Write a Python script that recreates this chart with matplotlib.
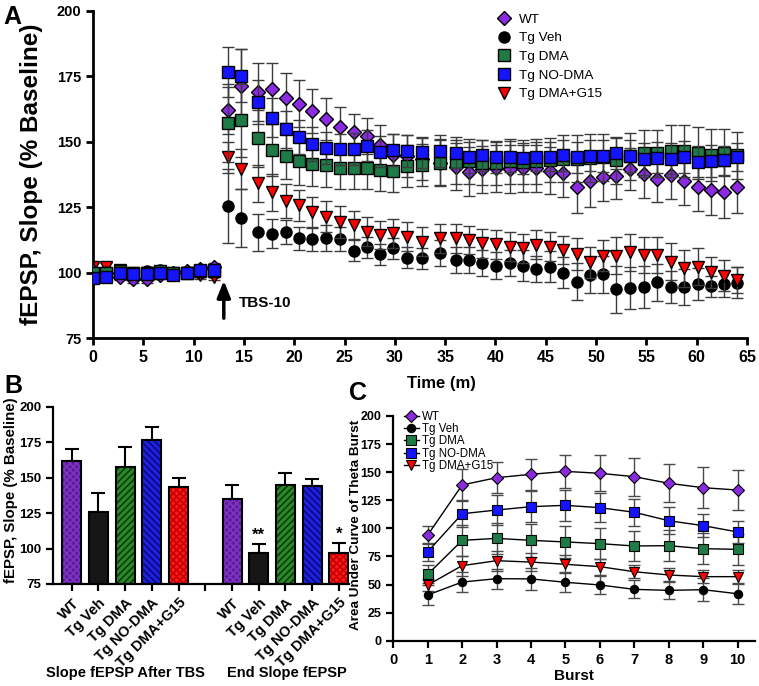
import matplotlib
matplotlib.use("Agg")
import matplotlib.pyplot as plt
import numpy as np

plt.rcParams['font.family'] = ['Liberation Sans', 'DejaVu Sans']
plt.rcParams['hatch.linewidth'] = 1.2

# ---------------- data ----------------
groups = ["WT", "Tg Veh", "Tg DMA", "Tg NO-DMA", "Tg DMA+G15"]

time_base = [0, 1.33, 2.67, 4.0, 5.33, 6.67, 8.0, 9.33, 10.67, 12.0]
time_post = [13.4, 14.7, 16.4, 17.8, 19.2, 20.5, 21.8, 23.2, 24.5, 25.9, 27.2, 28.5, 29.8,
             31.2, 32.7, 34.5, 36.1, 37.4, 38.7, 40.1, 41.4, 42.7, 44.0, 45.4, 46.7,
             48.1, 49.4, 50.7, 52.0, 53.4, 54.8, 56.1, 57.4, 58.7, 60.1, 61.4, 62.7, 64.0]

wt_base = [100.5, 100, 98.5, 97.5, 97.5, 99, 100, 100.5, 101.5, 102]
veh_base = [100, 100.5, 99, 99, 100.5, 101, 100, 100, 100, 100]
dma_base = [100, 100, 100.5, 100, 100, 100.5, 100, 100, 100.5, 100.5]
no_base = [98, 98.5, 100, 99.5, 99.5, 100, 99, 100, 101, 101]
g15_base = [102, 102, 101, 100, 100, 100, 100, 100, 99, 98.5]
base_err = [1.5, 1.5, 1.5, 1.5, 1.5, 1.5, 1.5, 1.5, 1.5, 1.5]

wt_post = [162, 171.5, 169, 170, 166.7, 164.5, 161.8, 158.6, 155.8, 153.8, 152.2, 148.6, 145,
           144.5, 143.5, 142, 140.5, 138.6, 139.5, 139.8, 139.6, 139.9, 139.9, 138.9, 138,
           132.9, 135, 136.4, 137, 139.6, 137.7, 135.9, 137.3, 135, 132.6, 131.6, 130.9, 132.6]
veh_post = [125.5, 120.8, 115.4, 114.9, 115.5, 113.1, 112.8, 113.1, 112.8, 108.4, 109.7, 107.0, 109.3,
            105.7, 105.5, 107.6, 104.8, 104.9, 103.6, 102.7, 103.6, 102.6, 101.4, 102.3, 100,
            96.5, 99.1, 99.3, 93.6, 94.2, 94.6, 96.3, 94.5, 94.5, 95.6, 94.7, 95.6, 96.2]
dma_post = [157.1, 158.2, 151.3, 146.9, 144.7, 142.5, 141.5, 141.1, 139.9, 140, 140.1, 139.2, 138.8,
            140.9, 141, 142, 142.2, 142.5, 142, 141.8, 142.5, 142.2, 142.5, 143, 143.5,
            143.5, 143.8, 144, 143, 144.5, 145.6, 145.6, 146.5, 146.5, 145.8, 144.9, 145.8, 144.9]
no_post = [176.8, 175.3, 165.3, 159.2, 154.8, 151.8, 149.0, 147.7, 147.1, 147.2, 148.5, 146.2, 146.9,
           146.5, 146.0, 146.5, 145.8, 144.1, 144.8, 144.1, 144.3, 143.7, 144.3, 144.3, 144.8,
           144.1, 144.7, 144.6, 145.6, 144.6, 143.4, 143.9, 143.6, 144.2, 142.4, 142.6, 143, 144.2]
g15_post = [144.1, 139.6, 134.1, 130.7, 127.5, 125.7, 123.0, 121.4, 119.3, 118.2, 115.6, 114.4, 115.0,
            113.7, 111.8, 113.1, 113.1, 112.5, 111.2, 110.8, 109.9, 109.3, 110.6, 109.9, 108.6,
            107.1, 103.9, 106.5, 106.5, 107.8, 106.7, 106.7, 104.2, 101.6, 102.3, 100.1, 98.8, 97.2]

wt_err = [9, 14, 11, 10, 9.5, 9, 8.5, 8, 7.5, 7, 7, 8, 8, 8, 8, 9, 9, 9.5, 9, 9, 9, 9, 9, 9, 9,
          10, 10, 9, 9, 8, 9, 9, 9, 9, 9, 9.5, 10, 10]
veh_err = [14, 11, 7, 5.5, 4.5, 4.5, 4.5, 5, 4.5, 4, 4, 4, 4, 4, 4, 5, 5, 5, 5, 5, 5, 6, 5, 6, 6,
           7, 7, 7, 9, 8, 8, 7, 6, 7, 6, 4, 5, 6]
dma_err = [15, 14, 11, 10, 9, 9, 8.5, 8.5, 8, 8, 8, 8, 8, 8, 8, 8.5, 8.5, 8.5, 8.5, 8.5, 8.5, 8.5,
           8.5, 8.5, 9, 9, 9, 9, 9, 9, 9, 9, 10, 10, 10, 10, 9, 9]
no_err = [9.5, 10, 8.5, 7.5, 7, 6.5, 6.5, 6, 6, 6, 6, 6, 6, 6, 6, 6, 6, 6, 6, 6, 6, 6, 5.5, 5.5, 6,
          6, 6, 6, 6, 6, 6, 6, 6, 6, 6, 6, 5.5, 5.5]
g15_err = [6, 7.5, 7, 7, 6.5, 6, 6, 6, 6, 5.5, 5.5, 5.5, 5.5, 5.5, 5.5, 5.5, 5.5, 5.5, 5.5, 5.5,
           5.5, 5.5, 5.5, 5.5, 5.5, 6, 6, 6, 7, 7, 7, 7, 7, 7, 7, 6, 6, 5]

# panel B
after_tbs = [161.9, 125.5, 157.2, 176.5, 143.4]
after_tbs_err = [8.4, 13.8, 14.3, 9.4, 6.1]
end_slope = [134.7, 97.1, 144.8, 144.1, 96.6]
end_slope_err = [9.9, 6.1, 8.7, 4.9, 7.1]
end_sig = ["", "**", "", "", "*"]

# panel C
bursts = [1, 2, 3, 4, 5, 6, 7, 8, 9, 10]
c_wt = [94.1, 138.6, 145.1, 148.1, 150.7, 149.0, 146.0, 140.1, 136.2, 134.1]
c_veh = [40.7, 52.2, 55.2, 55.0, 52.0, 49.6, 45.7, 44.8, 45.4, 41.8]
c_dma = [59.1, 89.3, 91.1, 89.3, 87.9, 86.4, 84.3, 84.6, 81.9, 81.3]
c_no = [79.2, 113.0, 116.3, 119.3, 120.5, 118.4, 114.3, 106.8, 102.4, 96.8]
c_g15 = [49.6, 66.8, 71.2, 70.0, 68.0, 65.9, 61.4, 58.5, 57.0, 57.0]
c_wt_err = [8.3, 14, 14, 14, 15, 16, 17, 17, 18, 18]
c_veh_err = [9, 9, 9, 10, 9, 8, 8, 8, 10, 9]
c_dma_err = [8, 14, 14, 15, 14, 14, 13, 14, 14, 14]
c_no_err = [8, 12, 13, 14, 14, 13, 12, 12, 10, 10]
c_g15_err = [5, 9, 9, 8, 8, 7, 6, 6, 6, 6]

# ---------------- styles ----------------
mk_colors = ['#8A2BE2', 'black', '#1E7B45', '#1414FF', '#FF0000']
markers = ['D', 'o', 's', 's', 'v']
msizes_a = [7.5, 8, 9, 9, 8.5]
zorders = [3, 1, 4, 5, 2]

bar_face = ['#5E1A99', '#161616', '#2A8A2A', '#2020E0', '#FF1A1A']
bar_hatchc = ['#7B35C0', '#161616', '#0B3A0B', '#0A0A80', '#C40000']
bar_hatch = ['xxxxx', None, '/////', '\\\\\\\\\\', 'xxxxx']

W, H = 759, 686
fig = plt.figure(figsize=(W / 100, H / 100), dpi=100)


def rect(l, t, r, b):
    return [l / W, 1 - b / H, (r - l) / W, (b - t) / H]


def style_axes(ax, lw=1.6):
    for s in ['top', 'right']:
        ax.spines[s].set_visible(False)
    for s in ['left', 'bottom']:
        ax.spines[s].set_linewidth(lw)
    ax.tick_params(direction='out', width=lw, length=5)


# ---------------- Panel A ----------------
axA = fig.add_axes(rect(93, 11, 747, 338))
style_axes(axA, 2.0)
times = time_base + time_post
series = [(wt_base + wt_post, base_err + wt_err),
          (veh_base + veh_post, base_err + veh_err),
          (dma_base + dma_post, base_err + dma_err),
          (no_base + no_post, base_err + no_err),
          (g15_base + g15_post, base_err + g15_err)]
for i, (vals, errs) in enumerate(series):
    axA.errorbar(times, vals, yerr=errs, fmt='none', ecolor='#3c3c3c', elinewidth=1.0,
                 capsize=4, capthick=1.0, zorder=zorders[i])
    axA.plot(times, vals, linestyle='none', marker=markers[i], markersize=msizes_a[i],
             markerfacecolor=mk_colors[i], markeredgecolor='black', markeredgewidth=1.0,
             label=groups[i], zorder=zorders[i] + 0.5)
axA.set_xlim(0, 65)
axA.set_ylim(75, 200)
axA.set_xticks(np.arange(0, 66, 5))
axA.set_yticks(np.arange(75, 201, 25))
for lab in axA.get_xticklabels():
    lab.set_fontsize(11.5)
    lab.set_fontweight('bold')
for lab in axA.get_yticklabels():
    lab.set_fontsize(10.5)
    lab.set_fontweight('bold')
axA.set_ylabel("fEPSP, Slope (% Baseline)", fontsize=17.5, fontweight='bold')
axA.yaxis.set_label_coords(-0.077, 0.5)
axA.set_xlabel("Time (m)", fontsize=12, fontweight='bold')
axA.xaxis.set_label_coords(0.533, -0.115)
axA.annotate("", xy=(13, 98), xytext=(13, 81.5),
             arrowprops=dict(arrowstyle='-|>,head_width=0.4,head_length=1.0', color='black', lw=2.5))
axA.text(14.5, 88.5, "TBS-10", fontsize=11, fontweight='bold', va='center', ha='left')
leg = axA.legend(loc='upper left', bbox_to_anchor=(492 / W, 1 - 8 / H), bbox_transform=fig.transFigure,
                 frameon=False, fontsize=9.7, labelspacing=0.46, handletextpad=0.6,
                 handlelength=1.0, borderaxespad=0)
fig.text(3 / W, 1 - 17 / H, "A", fontsize=18, fontweight='bold', va='center', ha='left')

# ---------------- Panel B ----------------
axB = fig.add_axes(rect(53.3, 406.7, 349.3, 584))
style_axes(axB, 1.6)
pos1 = [0, 1, 2, 3, 4]
pos2 = [6, 7, 8, 9, 10]
bw = 0.71
for pos, vals, errs in [(pos1, after_tbs, after_tbs_err), (pos2, end_slope, end_slope_err)]:
    for i in range(5):
        h = vals[i] - 75
        axB.bar(pos[i], h, bottom=75, width=bw, color=bar_face[i], edgecolor=bar_hatchc[i],
                hatch=bar_hatch[i], linewidth=0, zorder=2)
        axB.bar(pos[i], h, bottom=75, width=bw, fill=False, edgecolor='black', linewidth=1.5, zorder=3)
        axB.errorbar(pos[i], vals[i], yerr=[[0], [errs[i]]], fmt='none', ecolor='black',
                     elinewidth=1.5, capsize=5, capthick=1.5, zorder=1)
for i in range(5):
    if end_sig[i]:
        axB.text(pos2[i], end_slope[i] + end_slope_err[i] + 1, end_sig[i], ha='center', va='bottom',
                 fontsize=12, fontweight='bold')
axB.set_xlim(-0.69, 10.39)
axB.set_ylim(75, 200)
axB.set_yticks(np.arange(75, 201, 25))
axB.set_xticks(pos1 + [5] + pos2)
axB.set_xticklabels(groups + [""] + groups, rotation=45, ha='right', rotation_mode='anchor',
                    fontsize=10.5, fontweight='bold')
for lab in axB.get_yticklabels():
    lab.set_fontsize(9.5)
    lab.set_fontweight('bold')
axB.set_ylabel("fEPSP, Slope (% Baseline)", fontsize=10.8, fontweight='bold')
axB.yaxis.set_label_coords(-0.12, 0.53)
fig.text(125 / W, 1 - 673 / H, "Slope fEPSP After TBS", fontsize=10.5, fontweight='bold',
         ha='center', va='center')
fig.text(287 / W, 1 - 673 / H, "End Slope fEPSP", fontsize=10.5, fontweight='bold',
         ha='center', va='center')
fig.text(4 / W, 1 - 386 / H, "B", fontsize=18, fontweight='bold', va='center', ha='left')

# ---------------- Panel C ----------------
axC = fig.add_axes(rect(393.3, 416, 754.8, 640.7))
style_axes(axC, 1.6)
c_series = [(c_wt, c_wt_err), (c_veh, c_veh_err), (c_dma, c_dma_err), (c_no, c_no_err), (c_g15, c_g15_err)]
msizes_c = [6, 6, 7, 7, 6.5]
for i, (vals, errs) in enumerate(c_series):
    axC.errorbar(bursts, vals, yerr=errs, fmt='none', ecolor='#4a4a4a', elinewidth=1.0,
                 capsize=4, capthick=1.0, zorder=2)
    axC.plot(bursts, vals, color='black', lw=1.0, marker=markers[i], markersize=msizes_c[i],
             markerfacecolor=mk_colors[i], markeredgecolor='black', markeredgewidth=0.8,
             label=groups[i], zorder=3)
axC.set_xlim(0, 10.5)
axC.set_ylim(0, 200)
axC.set_xticks(range(0, 11))
axC.set_yticks(np.arange(0, 201, 25))
for lab in axC.get_xticklabels():
    lab.set_fontsize(10.5)
    lab.set_fontweight('bold')
for lab in axC.get_yticklabels():
    lab.set_fontsize(9)
    lab.set_fontweight('bold')
axC.set_ylabel("Area Under Curve of Theta Burst", fontsize=9.7, fontweight='bold')
axC.yaxis.set_label_coords(-0.087, 0.515)
axC.set_xlabel("Burst", fontsize=11, fontweight='bold')
axC.xaxis.set_label_coords(0.5, -0.128)
axC.legend(loc='upper left', bbox_to_anchor=(404 / W, 1 - 411 / H), bbox_transform=fig.transFigure,
           frameon=False, fontsize=8.3, labelspacing=0.02, handletextpad=0.3, handlelength=1.3,
           borderaxespad=0, borderpad=0)
fig.text(349 / W, 1 - 393 / H, "C", fontsize=18, fontweight='bold', va='center', ha='left')

fig.savefig("out.png", dpi=100)
